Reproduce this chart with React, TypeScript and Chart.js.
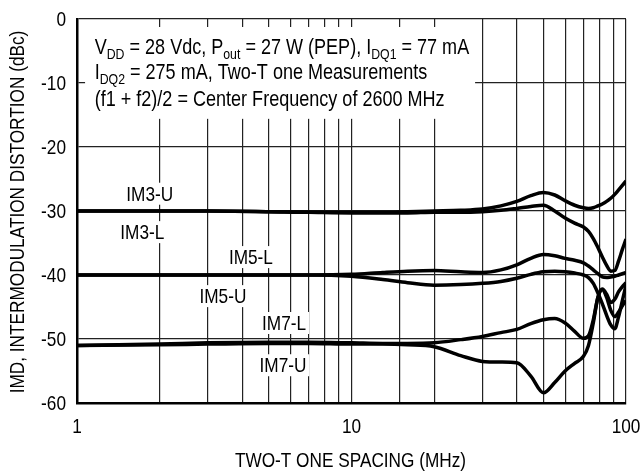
import React, { useEffect, useRef } from 'react';
import { Chart, registerables } from 'chart.js';

Chart.register(...registerables);

// ---- data ----
const FREQ_MHZ = [1, 2, 3, 5, 7, 10, 13, 16, 20, 25, 30, 35, 40, 45, 50, 55, 60, 65, 70, 73, 76, 79, 82, 85, 88, 91, 94, 97, 100];

const IM3_U = [-30, -30, -30, -30.1, -30.2, -30.2, -30.2, -30.1, -30.0, -29.9, -29.7, -29.2, -28.5, -27.6, -27.1, -27.5, -28.4, -29.1, -29.5, -29.6, -29.5, -29.2, -28.9, -28.5, -28.0, -27.4, -26.7, -26.0, -25.3];
const IM3_L = [-30, -30, -30, -30.1, -30.2, -30.3, -30.3, -30.3, -30.2, -30.2, -30.1, -29.9, -29.6, -29.3, -29.1, -30.0, -31.1, -31.9, -32.5, -33.2, -34.3, -35.7, -37.2, -38.5, -39.4, -39.3, -37.8, -36.0, -34.4];
const IM5_L = [-40, -40, -40, -40, -40, -39.9, -39.6, -39.4, -39.3, -39.5, -39.6, -39.2, -38.4, -37.4, -36.8, -37.0, -37.4, -37.7, -38.1, -38.6, -39.2, -39.8, -40.3, -40.4, -40.3, -40.2, -40.0, -39.8, -39.6];
const IM5_U = [-40, -40, -40, -40, -40, -40.2, -40.7, -41.2, -41.6, -41.5, -41.3, -41.0, -40.5, -39.9, -39.5, -39.4, -39.5, -39.7, -40.0, -40.4, -41.3, -42.8, -44.5, -46.3, -47.8, -48.4, -46.5, -44.0, -41.6];
const IM7_L = [-51, -50.8, -50.6, -50.5, -50.5, -50.6, -50.7, -50.7, -50.6, -50.1, -49.6, -49.0, -48.5, -47.6, -47.0, -46.8, -47.5, -48.8, -49.9, -49.5, -47.0, -43.5, -42.3, -43.5, -45.5, -46.5, -45.8, -44.8, -44.0];
const IM7_U = [-51, -50.9, -50.8, -50.7, -50.7, -50.8, -50.8, -50.9, -51.2, -52.6, -53.5, -53.6, -53.7, -55.8, -58.4, -56.8, -55.0, -53.8, -52.7, -51.0, -47.5, -43.5, -42.2, -43.0, -44.3, -43.8, -42.6, -41.8, -41.2];

const SERIES_NAMES = ['IM3-U', 'IM3-L', 'IM5-L', 'IM5-U', 'IM7-L', 'IM7-U'];
const SERIES_VALUES = [IM3_U, IM3_L, IM5_L, IM5_U, IM7_L, IM7_U];
// curve label anchors in data units (MHz, dBc)
const LABEL_X = [1.84, 1.73, 4.3, 3.4, 5.68, 5.63];
const LABEL_Y = [-27.3, -33.3, -37.2, -43.3, -47.5, -54.1];

const X_MIN = 1;
const X_MAX = 100;
const X_TICK_LABELS = [1, 10, 100];
const Y_MIN = -60;
const Y_MAX = 0;
const Y_STEP = 10;

const X_TITLE = 'TWO-T ONE SPACING (MHz)';
const Y_TITLE = 'IMD, INTERMODULATION DISTORTION (dBc)';

// condition box: [text, isSubscript]
const NOTE_LINES: [string, boolean][][] = [
  [['V', false], ['DD', true], [' = 28 Vdc, P', false], ['out', true], [' = 27 W (PEP), I', false], ['DQ1', true], [' = 77 mA', false]],
  [['I', false], ['DQ2', true], [' = 275 mA, Two-T one Measurements', false]],
  [['(f1 + f2)/2 = Center Frequency of 2600 MHz', false]],
];
// box extents in data units
const NOTE_BOX_X = [1.07, 28.2];
const NOTE_BOX_Y = [-1.25, -15.6];
const NOTE_TEXT_X = 1.16;
const NOTE_TEXT_Y = [-5.4, -9.4, -13.6];

const FAMILY = '"Liberation Sans", Arial, Helvetica, sans-serif';
const FONT = 21;
const NOTE_FONT = 22;
const SUB = 15;
const SX = 0.82; // horizontal compression to mimic a narrow face

function txt(ctx: CanvasRenderingContext2D, s: string, x: number, y: number, align: CanvasTextAlign, size = FONT, rot = 0) {
  ctx.save();
  ctx.translate(x, y);
  if (rot) ctx.rotate(rot);
  ctx.scale(SX, 1);
  ctx.font = `${size}px ${FAMILY}`;
  ctx.textAlign = align;
  ctx.fillText(s, 0, 0);
  ctx.restore();
}

export default function App() {
  const ref = useRef<HTMLCanvasElement | null>(null);

  useEffect(() => {
    const canvas = ref.current;
    if (!canvas) return;

    const annotations = {
      id: 'annotations',
      beforeDatasetsDraw(chart: any) {
        const ctx: CanvasRenderingContext2D = chart.ctx;
        const xs = chart.scales.x;
        const ys = chart.scales.y;
        ctx.save();
        // note box
        const bx0 = xs.getPixelForValue(NOTE_BOX_X[0]);
        const bx1 = xs.getPixelForValue(NOTE_BOX_X[1]);
        const by0 = ys.getPixelForValue(NOTE_BOX_Y[0]);
        const by1 = ys.getPixelForValue(NOTE_BOX_Y[1]);
        ctx.fillStyle = '#fff';
        ctx.fillRect(bx0, by0, bx1 - bx0, by1 - by0);
        ctx.fillStyle = '#000';
        ctx.textBaseline = 'alphabetic';
        const tx = xs.getPixelForValue(NOTE_TEXT_X);
        NOTE_LINES.forEach((segs, i) => {
          let x = tx;
          const base = ys.getPixelForValue(NOTE_TEXT_Y[i]);
          segs.forEach(([t, sub]) => {
            const size = sub ? SUB : NOTE_FONT;
            txt(ctx, t, x, sub ? base + 5 : base, 'left', size);
            ctx.font = `${size}px ${FAMILY}`;
            x += ctx.measureText(t).width * SX;
          });
        });
        // curve labels
        ctx.textBaseline = 'middle';
        ctx.font = `${FONT}px ${FAMILY}`;
        SERIES_NAMES.forEach((name, i) => {
          const px = xs.getPixelForValue(LABEL_X[i]);
          const py = ys.getPixelForValue(LABEL_Y[i]);
          const w = ctx.measureText(name).width * SX;
          ctx.fillStyle = '#fff';
          ctx.fillRect(px - w / 2 - 3, py - 11, w + 6, 22);
          ctx.fillStyle = '#000';
          txt(ctx, name, px, py + 1, 'center');
        });
        ctx.restore();
      },
      afterDraw(chart: any) {
        const ctx: CanvasRenderingContext2D = chart.ctx;
        const xs = chart.scales.x;
        const ys = chart.scales.y;
        const area = chart.chartArea;
        ctx.save();
        ctx.fillStyle = '#000';
        ctx.textBaseline = 'middle';
        // y tick labels
        for (let v = Y_MIN; v <= Y_MAX; v += Y_STEP) {
          txt(ctx, String(v), area.left - 11, ys.getPixelForValue(v) + 1, 'right');
        }
        // x tick labels
        X_TICK_LABELS.forEach((v) => {
          txt(ctx, String(v), xs.getPixelForValue(v), area.bottom + 24, 'center');
        });
        // axis titles
        txt(ctx, X_TITLE, (area.left + area.right) / 2 - 1, area.bottom + 58, 'center');
        txt(ctx, Y_TITLE, 18, (area.top + area.bottom) / 2 + 1, 'center', FONT, -Math.PI / 2);
        ctx.restore();
      },
    };

    const chart = new Chart(canvas, {
      type: 'line',
      data: {
        datasets: SERIES_VALUES.map((vals, i) => ({
          label: SERIES_NAMES[i],
          data: FREQ_MHZ.map((f, j) => ({ x: f, y: vals[j] })),
          borderColor: '#000',
          borderWidth: 3.5,
          pointRadius: 0,
          fill: false,
          cubicInterpolationMode: 'monotone' as const,
        })),
      },
      options: {
        responsive: false,
        animation: false,
        devicePixelRatio: 1,
        layout: { padding: { left: 0, top: 19, right: 16, bottom: 0 } },
        plugins: { legend: { display: false }, tooltip: { enabled: false } },
        scales: {
          x: {
            type: 'logarithmic',
            min: X_MIN,
            max: X_MAX,
            afterFit: (s: any) => { s.height = 71; },
            grid: { color: '#222', lineWidth: 1.2, drawTicks: false },
            border: { display: true, color: '#000', width: 2.5 },
            ticks: { display: false, autoSkip: false, maxRotation: 0 },
            title: { display: false },
          },
          y: {
            type: 'linear',
            min: Y_MIN,
            max: Y_MAX,
            afterFit: (s: any) => { s.width = 77; },
            grid: { color: '#222', lineWidth: 1.2, drawTicks: false },
            border: { display: true, color: '#000', width: 2.5 },
            ticks: { display: false, stepSize: Y_STEP },
            title: { display: false },
          },
        },
      },
      plugins: [annotations],
    });
    return () => chart.destroy();
  }, []);

  return (
    <div style={{ position: 'absolute', left: 0, top: 0, width: 642, height: 474, background: '#fff' }}>
      <canvas ref={ref} width={642} height={474} style={{ width: 642, height: 474, display: 'block' }} />
    </div>
  );
}
